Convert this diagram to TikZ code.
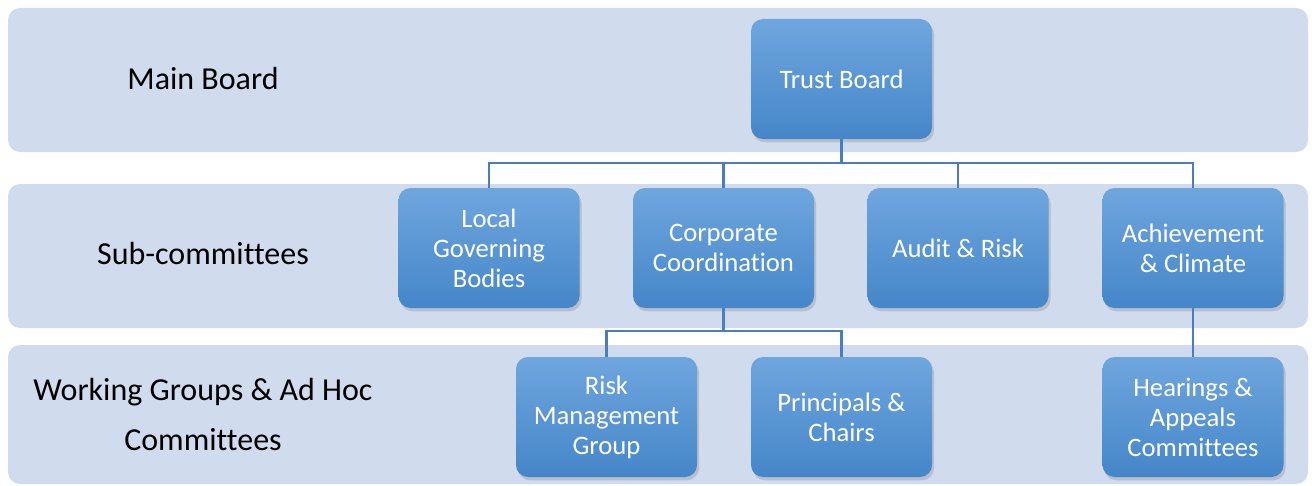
\documentclass[tikz,border=0pt]{standalone}
\usepackage{fontspec}
\setmainfont{Carlito}[Ligatures={NoCommon,NoContextual}]
\usetikzlibrary{shadows}
\definecolor{band}{HTML}{D0DBED}
\definecolor{boxtop}{HTML}{6FA6DE}
\definecolor{boxbot}{HTML}{4586C9}
\definecolor{conn}{HTML}{4A7EBB}
\begin{document}
\begin{tikzpicture}[x=0.75pt,y=-0.75pt,
  bandbox/.style={fill=band, rounded corners=9pt},
  orgbox/.style={rectangle, rounded corners=9pt, minimum width=135.75pt, minimum height=90pt,
    inner sep=0pt, top color=boxtop, bottom color=boxbot,
    text=white, align=center, font=\fontsize{20}{22.5}\selectfont,
    drop shadow={opacity=0.3, shadow xshift=1.5pt, shadow yshift=-2.5pt}},
  levellabel/.style={align=center, font=\fontsize{24}{37.5}\selectfont, text=black},
  connector/.style={draw=conn, line width=1.9pt}]
\useasboundingbox (0,0) rectangle (1312,485);
% bands
\fill[bandbox] (8,8) rectangle (1308,152);
\fill[bandbox] (8,184) rectangle (1308,328);
\fill[bandbox] (8,345) rectangle (1308,484);
% level labels
\node[levellabel] (lmain) at (203,79) {Main Board};
\node[levellabel] (lsub) at (203,254) {Sub-committees};
\node[levellabel] (lwork) at (203,415) {Working Groups \& Ad Hoc\\Committees};
% bus coordinates
\coordinate (busA) at (841.5,163);
\coordinate (busB) at (723.5,331);
% boxes
\node[orgbox] (trust) at (841.5,79) {Trust Board};
\node[orgbox] (lgb) at (489,248) {Local\\Governing\\Bodies};
\node[orgbox] (cc) at (723.5,248) {Corporate\\Coordination};
\node[orgbox] (ar) at (958,248) {Audit \& Risk};
\node[orgbox] (ach) at (1193,248) {Achievement\\\& Climate};
\node[orgbox] (rmg) at (606.5,417) {Risk\\Management\\Group};
\node[orgbox] (pc) at (841.5,417) {Principals \&\\Chairs};
\node[orgbox] (hac) at (1193,417) {Hearings \&\\Appeals\\Committees};
% connectors
\draw[connector] (trust.south) -- (busA);
\draw[connector] (lgb.north) |- (ach.north |- busA) -- (ach.north);
\draw[connector] (cc.north) -- (cc.north |- busA);
\draw[connector] (ar.north) -- (ar.north |- busA);
\draw[connector] (cc.south) -- (busB);
\draw[connector] (rmg.north) |- (pc.north |- busB) -- (pc.north);
\draw[connector] (ach.south) -- (hac.north);
\end{tikzpicture}
\end{document}
